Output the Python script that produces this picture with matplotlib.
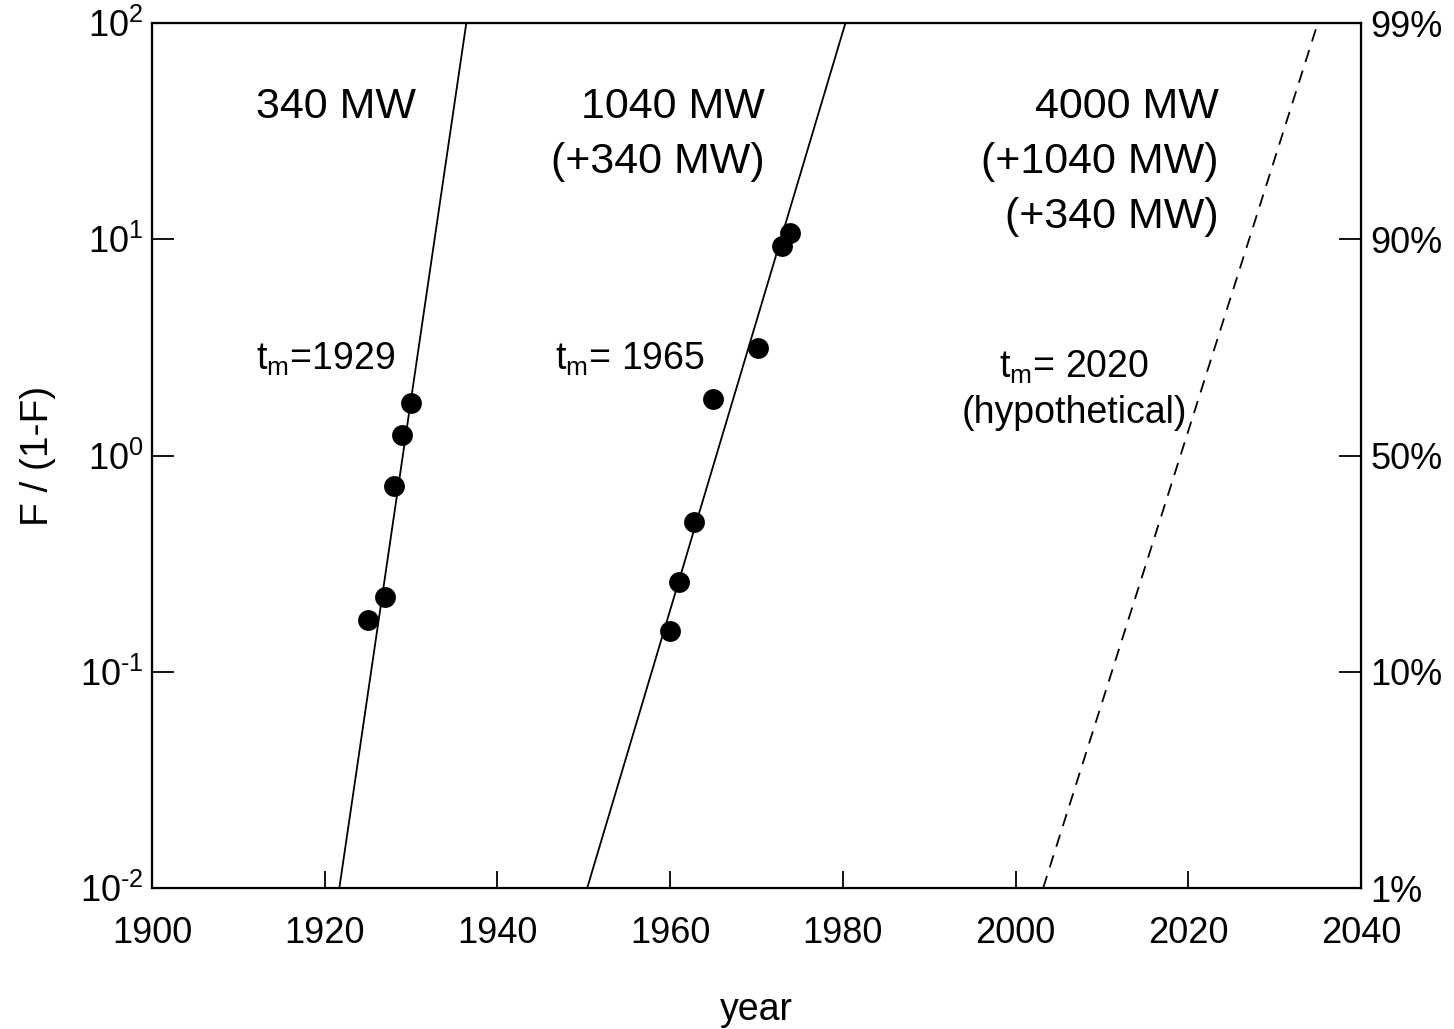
import matplotlib.pyplot as plt

plt.rcParams['font.family'] = ['Liberation Sans', 'DejaVu Sans']
plt.rcParams['mathtext.fontset'] = 'custom'
plt.rcParams['mathtext.rm'] = 'Liberation Sans'
plt.rcParams['mathtext.it'] = 'Liberation Sans:italic'
plt.rcParams['mathtext.default'] = 'regular'

# data points, F/(1-F)
years_340 = [1925, 1927, 1928, 1929, 1930]
ratio_340 = [0.174, 0.222, 0.72, 1.24, 1.76]
years_1040 = [1960, 1961, 1962.8, 1965, 1970.2, 1973, 1973.9]
ratio_1040 = [0.155, 0.26, 0.494, 1.82, 3.16, 9.3, 10.7]

# fitted lines: year where F/(1-F) = 1e-2 and 1e2
line_lo = [1921.7, 1950.4, 2003.2]
line_hi = [1936.4, 1980.3, 2035.0]
line_style = ['-', '-', '--']
line_y = [1e-2, 1e2]

x_ticks = [1900, 1920, 1940, 1960, 1980, 2000, 2020, 2040]
y_exp = [-2, -1, 0, 1, 2]
pct_labels = ['1%', '10%', '50%', '90%', '99%']

y_ticks = [10.0 ** e for e in y_exp]
y_labels = ['10$^{\\text{%d}}$' % e for e in y_exp]

fig = plt.figure(figsize=(14.54, 10.29), dpi=100)
ax = fig.add_axes([0.1045, 0.137, 0.8315, 0.8405])

for lo, hi, ls in zip(line_lo, line_hi, line_style):
    ax.plot([lo, hi], line_y, color='black', lw=1.3, ls=ls,
            dashes=(7, 5) if ls == '--' else (None, None))

ax.plot(years_340, ratio_340, 'o', color='black', ms=15, mew=0)
ax.plot(years_1040, ratio_1040, 'o', color='black', ms=15, mew=0)

ax.set_yscale('log')
ax.set_xlim(1900, 2040)
ax.set_ylim(1e-2, 1e2)
ax.set_xticks(x_ticks)
ax.set_yticks(y_ticks)
ax.set_yticklabels(y_labels)
ax.minorticks_off()
ax.tick_params(axis='x', direction='in', length=12, width=1.3, labelsize=26, pad=20)
ax.tick_params(axis='y', direction='in', length=16, width=1.3, labelsize=26, pad=6)
for s in ax.spines.values():
    s.set_linewidth(1.6)

ax2 = ax.twinx()
ax2.set_yscale('log')
ax2.set_ylim(1e-2, 1e2)
ax2.set_yticks(y_ticks)
ax2.set_yticklabels(pct_labels)
ax2.minorticks_off()
ax2.tick_params(axis='y', direction='in', length=16, width=1.3, labelsize=26, pad=7)

ax.set_xlabel('year', fontsize=27, labelpad=30)
ax.set_ylabel('F / (1-F)', fontsize=28, labelpad=17)

# capacity labels, one line each (right aligned)
blocks = [(1930.6, ['340 MW']),
          (1971.0, ['1040 MW', '(+340 MW)']),
          (2023.5, ['4000 MW', '(+1040 MW)', '(+340 MW)'])]
for xr, lines in blocks:
    for i, s in enumerate(lines):
        ax.annotate(s, (xr, 41), xytext=(0, -39.5 * i), textcoords='offset points',
                    fontsize=31, ha='right', va='center')

ax.text(1912.0, 2.78, 't$_m$=1929', fontsize=27, ha='left', va='center')
ax.text(1946.7, 2.78, 't$_m$= 1965', fontsize=27, ha='left', va='center')
ax.text(2006.8, 2.55, 't$_m$= 2020', fontsize=27, ha='center', va='center')
ax.text(2006.8, 1.58, '(hypothetical)', fontsize=27, ha='center', va='center')

fig.savefig('out.png', dpi=100)
